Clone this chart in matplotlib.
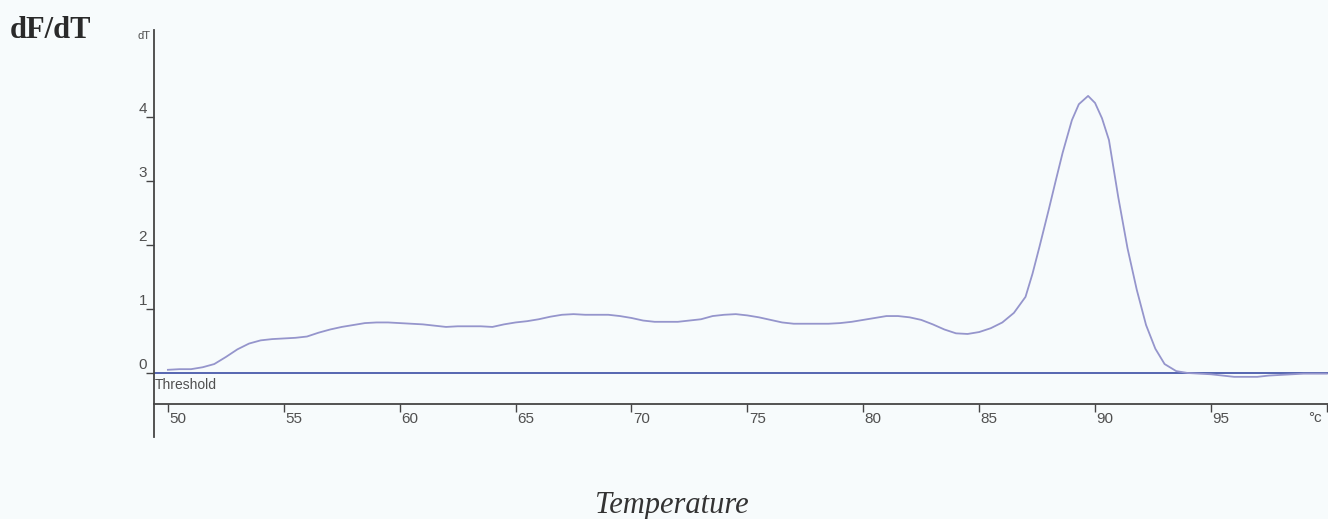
import matplotlib
matplotlib.use("Agg")
import matplotlib.pyplot as plt
from matplotlib.transforms import ScaledTranslation

# Melt curve: temperature (°C) and first derivative of fluorescence
temperature = [50.0, 50.5, 51.0, 51.5, 52.0, 52.5, 53.0, 53.5, 54.0, 54.5,
               55.0, 55.5, 56.0, 56.5, 57.0, 57.5, 58.0, 58.5, 59.0, 59.5,
               60.0, 60.5, 61.0, 61.5, 62.0, 62.5, 63.0, 63.5, 64.0, 64.5,
               65.0, 65.5, 66.0, 66.5, 67.0, 67.5, 68.0, 68.5, 69.0, 69.5,
               70.0, 70.5, 71.0, 71.5, 72.0, 72.5, 73.0, 73.5, 74.0, 74.5,
               75.0, 75.5, 76.0, 76.5, 77.0, 77.5, 78.0, 78.5, 79.0, 79.5,
               80.0, 80.5, 81.0, 81.5, 82.0, 82.5, 83.0, 83.5, 84.0, 84.5,
               85.0, 85.5, 86.0, 86.5, 87.0, 87.3, 87.6, 88.0, 88.3, 88.6,
               89.0, 89.3, 89.7, 90.0, 90.3, 90.6, 91.0, 91.4, 91.8, 92.2,
               92.6, 93.0, 93.5, 94.0, 94.5, 95.0, 95.5, 96.0, 96.5, 97.0,
               97.5, 98.0, 98.5, 99.0, 100.0]
dfdt = [0.05, 0.06, 0.06, 0.09, 0.14, 0.25, 0.37, 0.46, 0.51, 0.53,
        0.54, 0.55, 0.57, 0.63, 0.68, 0.72, 0.75, 0.78, 0.79, 0.79,
        0.78, 0.77, 0.76, 0.74, 0.72, 0.73, 0.73, 0.73, 0.72, 0.76,
        0.79, 0.81, 0.84, 0.88, 0.91, 0.92, 0.91, 0.91, 0.91, 0.89,
        0.86, 0.82, 0.80, 0.80, 0.80, 0.82, 0.84, 0.89, 0.91, 0.92,
        0.90, 0.87, 0.83, 0.79, 0.77, 0.77, 0.77, 0.77, 0.78, 0.80,
        0.83, 0.86, 0.89, 0.89, 0.87, 0.83, 0.76, 0.68, 0.62, 0.61,
        0.64, 0.70, 0.79, 0.94, 1.19, 1.55, 1.97, 2.55, 3.00, 3.44,
        3.95, 4.20, 4.33, 4.22, 3.98, 3.64, 2.75, 1.95, 1.30, 0.75,
        0.38, 0.14, 0.03, 0.00, -0.01, -0.02, -0.04, -0.06, -0.06, -0.06,
        -0.04, -0.03, -0.02, -0.01, -0.01]

threshold = 0.0
x_ticks = [50, 55, 60, 65, 70, 75, 80, 85, 90, 95, 100]
x_tick_labels = ["50", "55", "60", "65", "70", "75", "80", "85", "90", "95", ""]
y_ticks = [0, 1, 2, 3, 4]

bg = "#f7fbfc"
axis_col = "#454545"
text_col = "#505050"
curve_col = "#9595cc"
thr_col = "#5565b0"

fig = plt.figure(figsize=(13.28, 5.19), dpi=100, facecolor=bg)
ax = fig.add_axes([154 / 1328, 1 - 437 / 519, 1 - 154 / 1328, 407 / 519])
ax.set_facecolor(bg)
ax.set_xlim(49.4, 100.05)
ax.set_ylim(-1.0, 5.36)

for s in ("top", "right"):
    ax.spines[s].set_visible(False)
ax.spines["left"].set_color(axis_col)
ax.spines["left"].set_linewidth(1.3)
ax.spines["bottom"].set_position(("data", -0.48))
ax.spines["bottom"].set_color(axis_col)
ax.spines["bottom"].set_linewidth(1.3)

# x ticks: short marks below the axis line, labels to the right of each mark
ax.set_xticks(x_ticks)
ax.set_xticklabels(x_tick_labels, fontsize=11, family="Liberation Sans", color=text_col)
ax.tick_params(axis="x", direction="out", length=6, width=1, color=axis_col, pad=0)
dx = ScaledTranslation(1.5 / 100, 0, fig.dpi_scale_trans)
for lbl in ax.get_xticklabels():
    lbl.set_horizontalalignment("left")
    lbl.set_transform(lbl.get_transform() + dx)

# y ticks: short marks left of the axis, labels sitting just above each mark
ax.set_yticks(y_ticks)
ax.set_yticklabels([str(t) for t in y_ticks], fontsize=11,
                   family="Liberation Sans", color=text_col)
ax.tick_params(axis="y", direction="out", length=6, width=1, color=axis_col, pad=-1)
dy = ScaledTranslation(0, 1 / 100, fig.dpi_scale_trans)
for lbl in ax.get_yticklabels():
    lbl.set_verticalalignment("bottom")
    lbl.set_transform(lbl.get_transform() + dy)

# threshold line and curve
ax.axhline(threshold, color=thr_col, lw=1.4, zorder=2)
ax.text(49.45, threshold - 0.08, "Threshold", ha="left", va="top", fontsize=10,
        family="Liberation Sans", color=text_col)
ax.plot(temperature, dfdt, color=curve_col, lw=1.3, zorder=3)

# axis unit labels
ax.text(-0.003, 0.985, "dT", transform=ax.transAxes, ha="right", va="center",
        fontsize=8, family="Liberation Sans", color=text_col)
ax.text(99.8, -0.7, "°c", ha="right", va="center", fontsize=11,
        family="Liberation Sans", color=text_col)

# figure labels
fig.text(10 / 1328, 1 - 31 / 519, "dF/dT", ha="left", va="center", fontsize=22,
         family="Liberation Serif", fontweight="bold", color="#2a2a2a")
fig.text(672 / 1328, 1 - 505 / 519, "Temperature", ha="center", va="center",
         fontsize=22, family="Liberation Serif", style="italic", color="#333333")

fig.savefig("out.png", dpi=100, facecolor=bg)
